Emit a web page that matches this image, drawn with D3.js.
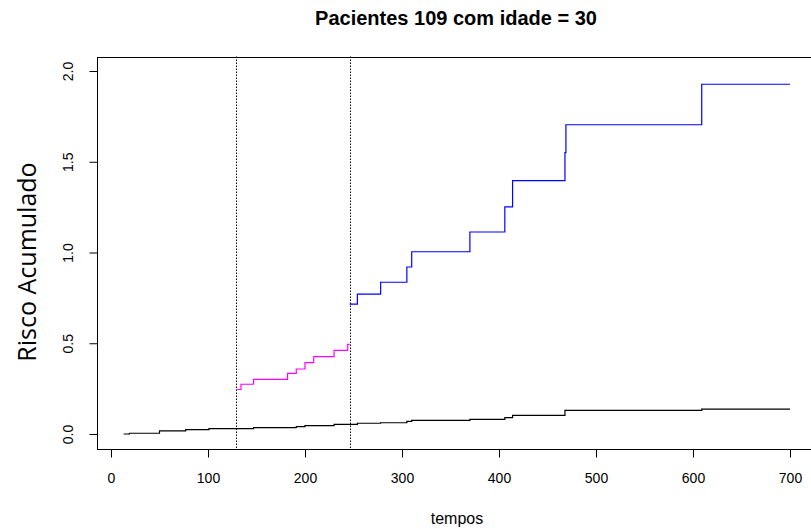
<!DOCTYPE html>
<html>
<head>
<meta charset="utf-8">
<script src="https://cdn.jsdelivr.net/npm/d3@7"></script>
<style>
  html, body { margin: 0; padding: 0; background: #fff; }
  svg { display: block; }
</style>
</head>
<body>
<svg id="chart" width="811" height="529"></svg>
<script>
// ---- data ----
const titleText = "Pacientes 109 com idade = 30";
const xLabel = "tempos";
const yLabel = "Risco Acumulado";

const xTicks = [0, 100, 200, 300, 400, 500, 600, 700];
const yTicks = [0.0, 0.5, 1.0, 1.5, 2.0];
const yTickLabels = ["0.0", "0.5", "1.0", "1.5", "2.0"];

const cutTimes = [129, 246];

const blackTimes = [13, 19, 50, 77, 101, 147, 191, 200, 230, 254, 278, 305, 310, 370, 406, 414, 468, 609, 700];
const blackVals  = [0.000, 0.004, 0.017, 0.024, 0.029, 0.035, 0.040, 0.046, 0.053, 0.059, 0.062, 0.070, 0.075, 0.081, 0.090, 0.103, 0.130, 0.137, 0.137];

const magentaTimes = [130, 134, 147, 182, 191, 200, 209, 230, 244, 246];
const magentaVals  = [0.245, 0.274, 0.301, 0.334, 0.358, 0.393, 0.426, 0.461, 0.494, 0.494];

const blueTimes = [246, 254, 278, 305, 310, 370, 406, 414, 468, 469, 609, 700];
const blueVals  = [0.716, 0.771, 0.836, 0.920, 1.004, 1.113, 1.251, 1.396, 1.550, 1.704, 1.927, 1.927];

// ---- layout ----
const svg = d3.select("#chart");
const xPerUnit = (790 - 111) / 700;
const xDom = [-14.5, 727.5];
const x = d3.scaleLinear().domain(xDom).range([111 + xDom[0] * xPerUnit, 111 + xDom[1] * xPerUnit]);
const y = d3.scaleLinear().domain([-0.08, 2.08]).range([448.5, 56.5]);

svg.append("rect").attr("width", 811).attr("height", 529).attr("fill", "#fff");

const plotL = x.range()[0], plotR = x.range()[1];
const plotT = y.range()[1], plotB = y.range()[0];

// box
svg.append("rect")
  .attr("x", Math.round(plotL) + 0.5).attr("y", Math.round(plotT) + 0.5)
  .attr("width", Math.round(plotR - plotL)).attr("height", Math.round(plotB - plotT))
  .attr("fill", "none").attr("stroke", "#000").attr("stroke-width", 1);

// x axis
const xAxis = d3.axisBottom(x).tickValues(xTicks).tickSize(8).tickPadding(16).tickFormat(d3.format("d"));
const gx = svg.append("g").attr("transform", `translate(0,${Math.round(plotB) + 0.5})`).call(xAxis);
gx.select(".domain").attr("d", `M${x(0)},0H${x(700)}`).attr("stroke", "#000");
gx.selectAll("text").attr("font-family", "Liberation Sans, Arial, sans-serif").attr("font-size", 14).attr("fill", "#000");

// y axis
const yAxis = d3.axisLeft(y).tickValues(yTicks).tickSize(8).tickFormat((d, i) => yTickLabels[i]);
const gy = svg.append("g").attr("transform", `translate(${Math.round(plotL) + 0.5},0)`).call(yAxis);
gy.select(".domain").attr("d", `M0,${y(0)}V${y(2)}`).attr("stroke", "#000");
gy.selectAll("text")
  .attr("font-family", "Liberation Sans, Arial, sans-serif").attr("font-size", 14).attr("fill", "#000")
  .attr("text-anchor", "middle").attr("x", null)
  .attr("transform", "translate(-29,0) rotate(-90)")
  .attr("dy", "0.35em");

// cut lines (dotted)
svg.selectAll(".cut").data(cutTimes).enter().append("line")
  .attr("x1", d => Math.round(x(d)) + 0.5).attr("x2", d => Math.round(x(d)) + 0.5)
  .attr("y1", plotT).attr("y2", plotB)
  .attr("stroke", "#000").attr("stroke-width", 1).attr("stroke-dasharray", "1.5,1.5");

// step curves
const line = d3.line().x(d => x(d[0])).y(d => y(d[1])).curve(d3.curveStepAfter);
function drawStep(times, vals, color) {
  const pts = times.map((t, i) => [t, vals[i]]);
  svg.append("path").datum(pts).attr("d", line)
    .attr("fill", "none").attr("stroke", color).attr("stroke-width", 1.2);
}
drawStep(blackTimes, blackVals, "#000");
drawStep(magentaTimes, magentaVals, "#ff00ff");
drawStep(blueTimes, blueVals, "#0000ff");

// title & labels
svg.append("text").attr("x", 456).attr("y", 25).attr("text-anchor", "middle")
  .attr("font-family", "Liberation Sans, Arial, sans-serif").attr("font-weight", "bold").attr("font-size", 20)
  .text(titleText);
svg.append("text").attr("x", 457).attr("y", 524).attr("text-anchor", "middle")
  .attr("font-family", "Liberation Sans, Arial, sans-serif").attr("font-size", 16)
  .text(xLabel);
svg.append("text").attr("transform", "translate(36,262) rotate(-90)").attr("text-anchor", "middle")
  .attr("font-family", "Open Sans, sans-serif").attr("font-size", 25)
  .text(yLabel);
</script>
</body>
</html>
